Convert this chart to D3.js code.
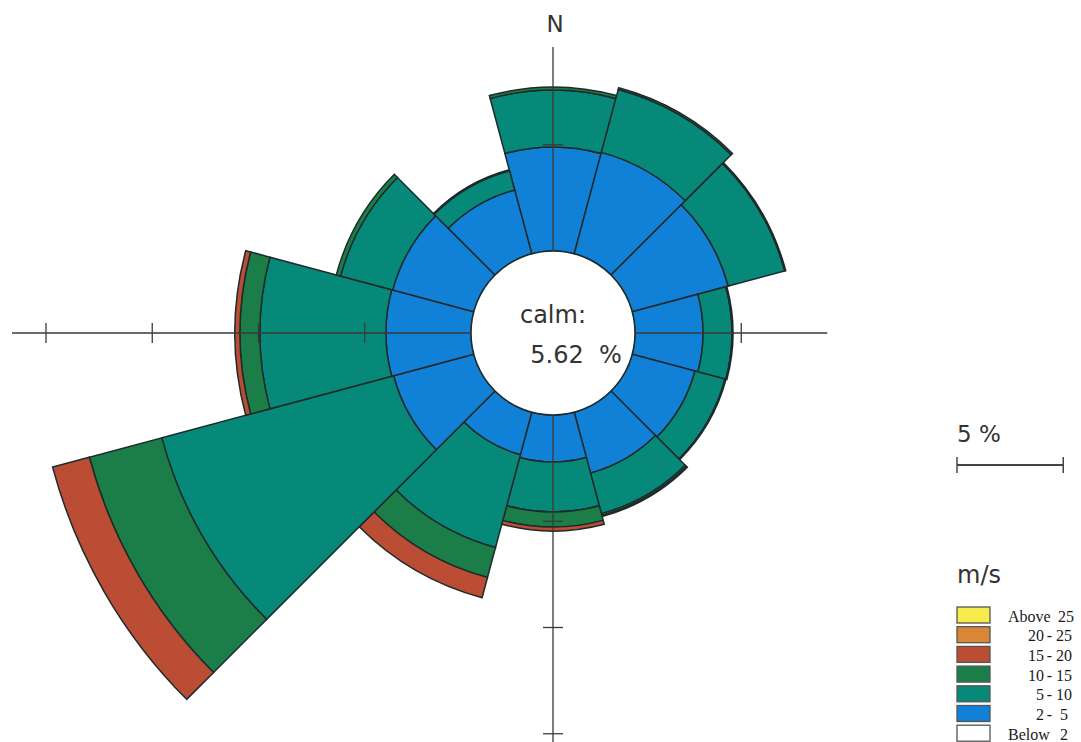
<!DOCTYPE html>
<html>
<head>
<meta charset="utf-8">
<script src="https://cdn.jsdelivr.net/npm/d3@7"></script>
<style>
  html, body { margin: 0; padding: 0; background: #ffffff; }
  svg { display: block; }
</style>
</head>
<body>
<svg id="chart" width="1081" height="742"></svg>
<script>
// ---------------- DATA ----------------
// Direction sector centres (degrees clockwise from north), 30° sectors
const directions = [0, 30, 60, 90, 120, 150, 180, 210, 240, 270, 300, 330];
// Frequency (%) per speed class, one value per direction
const speed2to5   = [4.89, 4.94, 4.68, 3.20, 3.06, 2.96, 2.21, 2.07, 3.91, 4.00, 3.95, 3.11];
const speed5to10  = [2.68, 3.06, 2.75, 1.36, 1.46, 1.98, 2.35, 4.52, 11.29, 5.93, 2.54, 0.94];
const speed10to15 = [0.14, 0.09, 0.05, 0.05, 0.05, 0.09, 0.71, 1.46, 3.53, 0.94, 0.21, 0.05];
const speed15to20 = [0.00, 0.00, 0.00, 0.00, 0.00, 0.05, 0.19, 0.99, 1.79, 0.24, 0.00, 0.00];
const speed20to25 = [0, 0, 0, 0, 0, 0, 0, 0, 0, 0, 0, 0];
const speedAbove25 = [0, 0, 0, 0, 0, 0, 0, 0, 0, 0, 0, 0];
const calmPercent = 5.62;
// Legend classes (top to bottom)
const legendLabels = [["Above", "25"], ["20", "25"], ["15", "20"], ["10", "15"], ["5", "10"], ["2", "5"], ["Below", "2"]];
const axisTicks = [5, 10, 15, 20];
const scaleBarPercent = 5;

// ---------------- STYLE ----------------
const classColors = ["#1181d8", "#07897a", "#1b7e48", "#bb4d34", "#d98636", "#f6ea4c"];
const legendColors = ["#f6ea4c", "#d98636", "#bb4d34", "#1b7e48", "#07897a", "#1181d8", "#ffffff"];
const outline = "#1e2a2a";

const svg = d3.select("#chart");
svg.append("rect").attr("width", 1081).attr("height", 742).attr("fill", "#fff");

const cx = 553, cy = 333;
const r = d3.scaleLinear().domain([0, 20]).range([82, 507]);

const g = svg.append("g").attr("transform", `translate(${cx},${cy})`);

const classes = [speed2to5, speed5to10, speed10to15, speed15to20, speed20to25, speedAbove25];

const arc = d3.arc();
const half = 15 * Math.PI / 180;

directions.forEach((dir, i) => {
  const a = dir * Math.PI / 180;
  let cum = 0;
  classes.forEach((cls, k) => {
    const v = cls[i];
    if (v <= 0) return;
    const inner = cum, outer = cum + v;
    cum = outer;
    g.append("path")
      .attr("d", arc({innerRadius: r(inner), outerRadius: r(outer), startAngle: a - half, endAngle: a + half}))
      .attr("fill", classColors[k])
      .attr("stroke", outline)
      .attr("stroke-width", 1.5)
      .attr("stroke-linejoin", "miter");
  });
});

// calm circle
g.append("circle").attr("r", r(0)).attr("fill", "#fff").attr("stroke", outline).attr("stroke-width", 1.5);

// axes (extent in % along each direction: up, right, down, left)
const axisExtent = [{dx: 0, dy: -1, max: 9.6}, {dx: 1, dy: 0, max: 9.05}, {dx: 0, dy: 1, max: 16}, {dx: -1, dy: 0, max: 21.6}];
const axisColor = "#3a3a3a";
axisExtent.forEach(ax => {
  g.append("line")
    .attr("x1", ax.dx * r(0)).attr("y1", ax.dy * r(0))
    .attr("x2", ax.dx * r(ax.max)).attr("y2", ax.dy * r(ax.max))
    .attr("stroke", axisColor).attr("stroke-width", 1.3);
  axisTicks.filter(t => t <= ax.max).forEach(t => {
    const px = ax.dx * r(t), py = ax.dy * r(t);
    g.append("line")
      .attr("x1", px - ax.dy * 10).attr("y1", py - ax.dx * 10)
      .attr("x2", px + ax.dy * 10).attr("y2", py + ax.dx * 10)
      .attr("stroke", axisColor).attr("stroke-width", 1.3);
  });
});

const sans = "'DejaVu Sans', 'Open Sans', sans-serif";
// N label
svg.append("text").attr("x", cx + 2).attr("y", 32).attr("text-anchor", "middle")
  .attr("font-family", sans).attr("font-size", 23).attr("fill", "#333").text("N");

// calm text
svg.append("text").attr("x", cx).attr("y", 323).attr("text-anchor", "middle")
  .attr("font-family", sans).attr("font-size", 24).attr("fill", "#333").text("calm:");
svg.append("text").attr("x", 576).attr("y", 363).attr("text-anchor", "middle")
  .attr("font-family", sans).attr("font-size", 24).attr("fill", "#333")
  .text(calmPercent.toFixed(2) + "\u00a0\u00a0%");

// scale bar
const barX = 957, barY = 465;
const barLen = r(scaleBarPercent) - r(0);
svg.append("text").attr("x", barX).attr("y", 442)
  .attr("font-family", sans).attr("font-size", 23).attr("fill", "#333")
  .text(scaleBarPercent + " %");
svg.append("line").attr("x1", barX).attr("x2", barX + barLen).attr("y1", barY).attr("y2", barY)
  .attr("stroke", "#444").attr("stroke-width", 2);
[barX, barX + barLen].forEach(x => {
  svg.append("line").attr("x1", x).attr("x2", x).attr("y1", barY - 8).attr("y2", barY + 8)
    .attr("stroke", "#444").attr("stroke-width", 1.5);
});

// legend
svg.append("text").attr("x", 957).attr("y", 583)
  .attr("font-family", sans).attr("font-size", 24).attr("fill", "#333").text("m/s");

const serif = "'Liberation Serif', 'Times New Roman', serif";
const rowTop = 607, rowStep = 19.7;
legendLabels.forEach((lab, i) => {
  const y = rowTop + i * rowStep;
  svg.append("rect").attr("x", 957).attr("y", y).attr("width", 33).attr("height", 16)
    .attr("fill", legendColors[i]).attr("stroke", "#555").attr("stroke-width", 1.3);
  const base = y + 14.5;
  const t = (x, s, anchor) => svg.append("text").attr("x", x).attr("y", base)
    .attr("text-anchor", anchor).attr("font-family", serif).attr("font-size", 16).attr("fill", "#1a1a1a").text(s);
  if (lab[0] === "Above" || lab[0] === "Below") {
    t(1008, lab[0], "start");
    t(lab[0] === "Above" ? 1058 : 1060, lab[1], "start");
  } else {
    t(1044, lab[0], "end");
    t(1049.5, "-", "middle");
    t(lab[1].length > 1 ? 1056 : 1060, lab[1], "start");
  }
});
</script>
</body>
</html>
